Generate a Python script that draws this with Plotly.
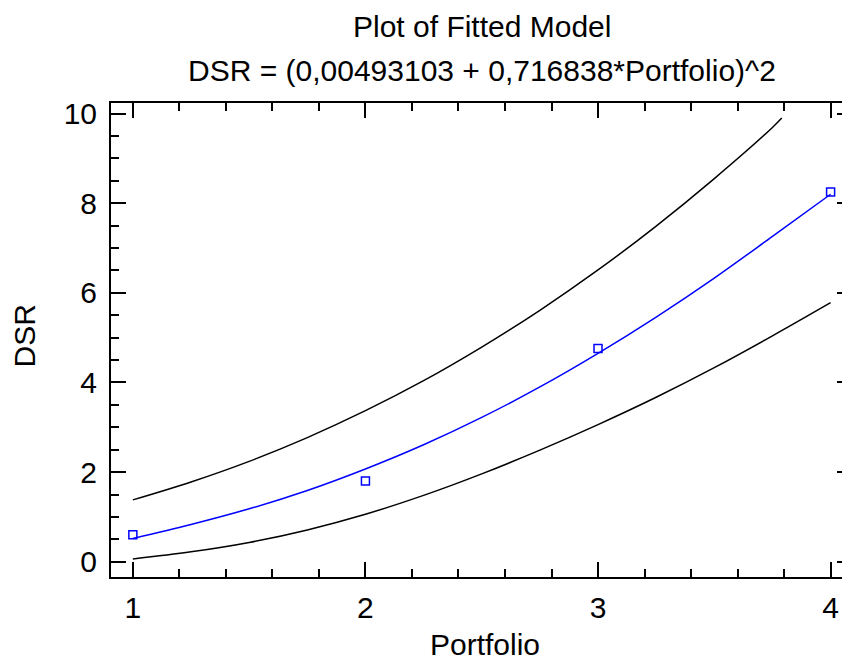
import plotly.graph_objects as go

# observed data
obs_x = [1, 2, 3, 4]
obs_y = [0.6, 1.8, 4.76, 8.25]

# fitted model curve
fit_x = [1.0, 1.25, 1.5, 1.75, 2.0, 2.25, 2.5, 2.75, 3.0, 3.25, 3.5, 3.75, 4.0]
fit_y = [0.52, 0.83, 1.18, 1.59, 2.07, 2.61, 3.22, 3.90, 4.65, 5.46, 6.33, 7.26, 8.2]

# upper limit curve
up_x = [1.0, 1.25, 1.5, 1.75, 2.0, 2.25, 2.5, 2.75, 3.0, 3.25, 3.5, 3.75, 3.79]
up_y = [1.38, 1.78, 2.24, 2.77, 3.37, 4.04, 4.79, 5.61, 6.51, 7.49, 8.55, 9.69, 9.9]

# lower limit curve
lo_x = [1.0, 1.25, 1.5, 1.75, 2.0, 2.25, 2.5, 2.75, 3.0, 3.25, 3.5, 3.75, 4.0]
lo_y = [0.06, 0.22, 0.43, 0.71, 1.06, 1.48, 1.96, 2.49, 3.06, 3.67, 4.33, 5.04, 5.78]

x_ticks = [1, 2, 3, 4]
y_ticks = [0, 2, 4, 6, 8, 10]

FONT = "Liberation Sans, Arial, sans-serif"
FS = 30

fig = go.Figure()
fig.add_trace(go.Scatter(x=up_x, y=up_y, mode="lines", line=dict(color="black", width=1.5, shape="spline")))
fig.add_trace(go.Scatter(x=lo_x, y=lo_y, mode="lines", line=dict(color="black", width=1.5, shape="spline")))
fig.add_trace(go.Scatter(x=fit_x, y=fit_y, mode="lines", line=dict(color="#0000FF", width=1.5, shape="spline")))
fig.add_trace(go.Scatter(x=obs_x, y=obs_y, mode="markers",
                         marker=dict(symbol="square-open", size=8, color="#0000FF", line=dict(width=1.5, color="#0000FF"))))

axis_common = dict(showgrid=False, zeroline=False, showline=True, linewidth=2, linecolor="black",
                   mirror="ticks", ticks="inside", ticklen=15, tickwidth=2, tickcolor="black",
                   tickfont=dict(family=FONT, size=FS, color="black"))

fig.update_xaxes(range=[0.906, 4.092], tickvals=x_ticks, ticktext=[str(v) for v in x_ticks],
                 minor=dict(ticks="inside", dtick=0.2, tick0=0, ticklen=8, tickwidth=2, tickcolor="black"),
                 ticklabelstandoff=3, **axis_common)
fig.update_yaxes(range=[-0.341, 10.236], tickvals=y_ticks, ticktext=[str(v) for v in y_ticks],
                 minor=dict(ticks="inside", dtick=0.5, tick0=0, ticklen=8, tickwidth=2, tickcolor="black"),
                 ticklabelstandoff=6, **axis_common)

fig.add_annotation(text="Plot of Fitted Model", xref="paper", yref="paper", x=0.5, y=1.162,
                   showarrow=False, xanchor="center", yanchor="middle",
                   font=dict(family=FONT, size=FS, color="black"))
fig.add_annotation(text="DSR = (0,00493103 + 0,716838*Portfolio)^2", xref="paper", yref="paper", x=0.5, y=1.068,
                   showarrow=False, xanchor="center", yanchor="middle",
                   font=dict(family=FONT, size=FS, color="black"))
fig.add_annotation(text="Portfolio", xref="paper", yref="paper", x=0.505, y=-0.142,
                   showarrow=False, xanchor="center", yanchor="middle",
                   font=dict(family=FONT, size=FS, color="black"))
fig.add_annotation(text="DSR", xref="paper", yref="paper", x=-0.117, y=0.508, textangle=-90,
                   showarrow=False, xanchor="center", yanchor="middle",
                   font=dict(family=FONT, size=FS, color="black"))

fig.update_layout(width=850, height=662, margin=dict(l=103, r=4, t=95, b=93),
                  plot_bgcolor="white", paper_bgcolor="white", showlegend=False)

fig.write_html("out.html")
